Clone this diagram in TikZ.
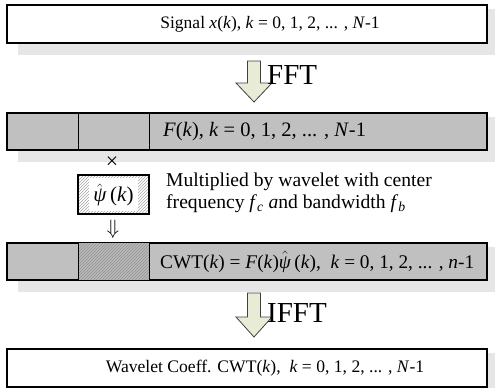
\documentclass[tikz,border=0pt]{standalone}
\usepackage{fontspec}
\setmainfont{Liberation Serif}
\usetikzlibrary{patterns}
\definecolor{shadowgray}{HTML}{E6E6E6}
\definecolor{boxgray}{HTML}{C0C0C0}
\definecolor{cellgray}{HTML}{BABABA}
\definecolor{hatchdark}{HTML}{929292}
\definecolor{hatchlight}{HTML}{A8A8A8}
\definecolor{arrowfill}{HTML}{E8ECD6}
\definecolor{arrowline}{HTML}{404040}
\newcommand{\wpsi}{$\hat{\mbox{\textit{ψ}}}$\,(\textit{k})}
\begin{document}
\begin{tikzpicture}[x=1pt,y=-1pt,
  box/.style={draw=black, line width=1.3pt, inner sep=0pt, minimum width=480pt},
  divider/.style={draw=black, line width=1pt},
  fatarrow/.style={draw=arrowline, line width=0.8pt, fill=arrowfill, line join=miter},
  txt/.style={inner sep=0pt, font=\fontsize{17.5}{20}\selectfont},
  midtxt/.style={inner sep=0pt, font=\fontsize{20.5}{22}\selectfont},
  bigtxt/.style={inner sep=0pt, font=\fontsize{19.3}{22}\selectfont},
  outtxt/.style={inner sep=0pt, font=\fontsize{17.6}{22}\selectfont},
  lbl/.style={inner sep=0pt, anchor=base west, font=\fontsize{29}{30}\selectfont},
  note/.style={inner sep=0pt, anchor=base west, font=\fontsize{19.6}{22}\selectfont}]
\useasboundingbox (0,0) rectangle (495,388);
% shadows
\fill[shadowgray] (18,9) rectangle (495,55);
\fill[shadowgray] (18,117) rectangle (495,162);
\fill[shadowgray] (18,247) rectangle (495,292);
\fill[shadowgray] (18,353) rectangle (495,388);
% box 1
\node[box, fill=white, minimum height=38pt] (sig) at (247,24) {};
\node[txt] (sigt) at (270,24) {Signal \textit{x}(\textit{k}), \textit{k} = 0, 1, 2, ... , \textit{N}-1};
% FFT arrow
\coordinate (a1) at (254,61);
\draw[fatarrow] (a1) ++(-6.5,0) -- ++(13,0) -- ++(0,22) -- ++(11.5,0) -- ++(-18,19) -- ++(-18,-19) -- ++(11.5,0) -- cycle;
\node[lbl] (fftl) at (267,84) {FFT};
% box 2
\node[box, fill=boxgray, minimum height=37pt] (fft) at (247,131.5) {};
\draw[divider] (78,0 |- fft.north) -- (78,0 |- fft.south);
\draw[divider] (149,0 |- fft.north) -- (149,0 |- fft.south);
\node[midtxt, anchor=west] (fftt) at (163,131.5) {\textit{F}(\textit{k}), \textit{k} = 0, 1, 2, ... , \textit{N}-1};
% multiply
\node[inner sep=0pt, font=\fontsize{22}{24}\selectfont] (times) at (112,163) {×};
\fill[white] (78,175) rectangle (149,214);
\fill[pattern=north east lines, pattern color=hatchlight] (78,175) rectangle (149,214);
\fill[white] (89,178) rectangle (138,211);
\node[draw=black, line width=1.2pt, minimum width=71pt, minimum height=39pt, inner sep=0pt] (psi) at (113.5,194.5) {};
\node[inner sep=0pt, font=\fontsize{21}{24}\selectfont] (psit) at (113.5,195) {\wpsi};
\node[inner sep=0pt, font=\fontsize{20}{22}\selectfont] (dn) at (113,229) {$\Downarrow$};
\node[note] (m1) at (166,186) {Multiplied by wavelet with center};
\node[note] (m2) at (166,208) {frequency \textit{f}\textsubscript{\textit{c}} \textit{a}nd bandwidth \textit{f}\textsubscript{\textit{b}}};
% box 3
\node[box, fill=boxgray, minimum height=37pt] (cwt) at (247,261.5) {};
\fill[cellgray] (78,243) rectangle (149,280);
\fill[pattern=north east lines, pattern color=hatchdark] (78,243) rectangle (149,280);
\draw[box, minimum width=0pt] (cwt.north west) rectangle (cwt.south east);
\draw[divider] (78,0 |- cwt.north) -- (78,0 |- cwt.south);
\draw[divider] (149,0 |- cwt.north) -- (149,0 |- cwt.south);
\node[bigtxt, anchor=west] (cwtt) at (160,262) {CWT(\textit{k}) = \textit{F}(\textit{k})\wpsi, \ \textit{k} = 0, 1, 2, ... , \textit{n}-1};
% IFFT arrow
\coordinate (a2) at (254,293);
\draw[fatarrow] (a2) ++(-6.5,0) -- ++(13,0) -- ++(0,24) -- ++(11.5,0) -- ++(-18,20) -- ++(-18,-20) -- ++(11.5,0) -- cycle;
\node[lbl] (ifftl) at (267,322) {IFFT};
% box 4
\node[box, fill=white, minimum height=38pt] (out) at (247,368) {};
\node[outtxt] (outt) at (265,368) {Wavelet Coeff. CWT(\textit{k}), \ \textit{k} = 0, 1, 2, ... , \textit{N}-1};
\end{tikzpicture}
\end{document}
